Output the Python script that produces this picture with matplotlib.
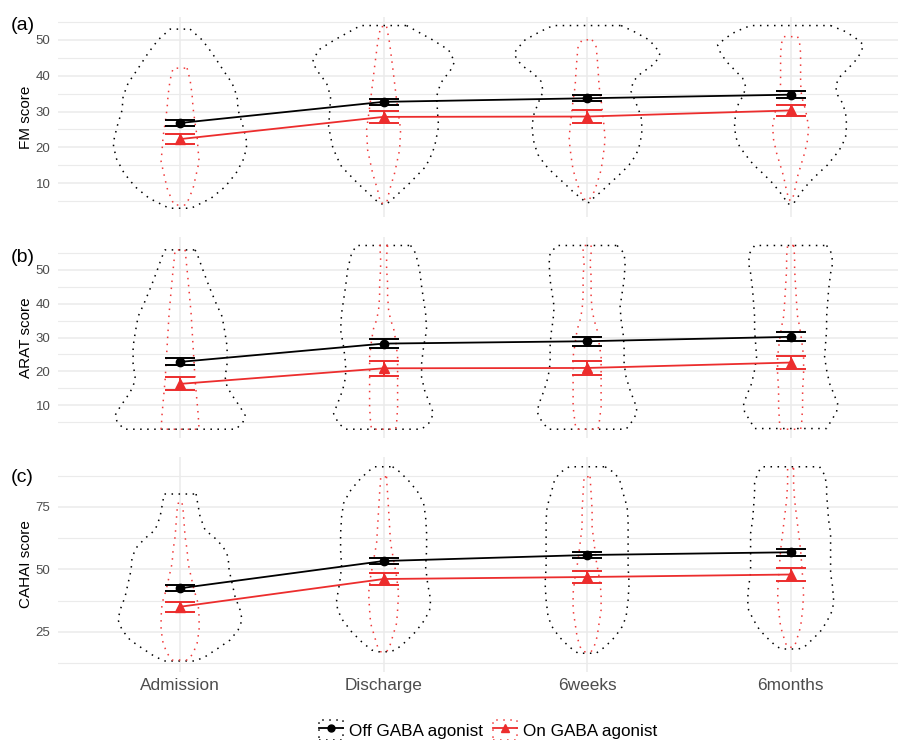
import numpy as np
import matplotlib
matplotlib.use("Agg")
import matplotlib.pyplot as plt
from matplotlib.lines import Line2D
from matplotlib.patches import Rectangle
from matplotlib.ticker import MultipleLocator

plt.rcParams['font.family'] = ['Liberation Sans', 'DejaVu Sans']

categories = ['Admission', 'Discharge', '6weeks', '6months']
groups = ['Off GABA agonist', 'On GABA agonist']

# group means and standard errors per time point
fm_off_mean = [26.8, 32.7, 33.7, 34.7]
fm_off_se = [0.9, 0.85, 0.85, 0.95]
fm_on_mean = [22.3, 28.5, 28.6, 30.3]
fm_on_se = [1.45, 1.75, 1.75, 1.65]

arat_off_mean = [22.8, 28.2, 28.9, 30.2]
arat_off_se = [1.05, 1.25, 1.3, 1.3]
arat_on_mean = [16.3, 20.9, 21.0, 22.6]
arat_on_se = [1.9, 2.15, 2.15, 2.05]

cahai_off_mean = [42.4, 53.3, 55.7, 56.8]
cahai_off_se = [1.2, 1.3, 1.3, 1.45]
cahai_on_mean = [35.0, 46.1, 46.9, 47.9]
cahai_on_se = [2.05, 2.4, 2.5, 2.5]

# violin outlines: score levels and relative density (half width) per time point
fm_off_vy = [
    [53.0, 50.0, 46.3, 41.6, 37.9, 34.2, 30.4, 25.8, 21.1, 17.0, 12.8, 9.0, 5.8, 3.0],
    [54.0, 52.3, 50.0, 47.2, 43.9, 41.6, 37.9, 34.2, 29.5, 25.8, 20.2, 17.4, 14.6, 10.0, 5.3, 4.2],
    [54.0, 52.3, 50.0, 48.1, 46.3, 44.4, 42.6, 40.7, 38.4, 35.6, 32.3, 28.6, 24.9, 21.1, 17.9, 15.1,
     12.8, 10.0, 7.6, 5.3, 4.6],
    [54.0, 52.3, 50.5, 48.6, 46.3, 43.9, 41.6, 39.3, 37.0, 34.6, 32.3, 29.5, 26.3, 23.0, 20.2, 17.9,
     15.1, 12.8, 10.0, 7.6, 5.3, 4.2],
]
fm_off_vd = [
    [10, 22, 32, 43, 52, 57, 58, 63, 67, 64, 56, 45, 31, 11],
    [23, 34, 49, 65, 71, 67, 57, 53, 54, 55, 51, 47, 42, 26, 8, 3],
    [34, 47, 62, 68, 73, 70, 64, 54, 46, 44, 49, 54, 55, 53, 49, 42, 34, 23, 14, 4, 2],
    [40, 55, 65, 73, 70, 64, 56, 48, 45, 47, 52, 55, 56, 55, 51, 45, 37, 28, 18, 11, 5, 3],
]
fm_on_vy = [
    [42.1, 38.8, 34.6, 30.9, 26.7, 23.0, 19.3, 16.0, 12.3, 8.6, 5.8, 3.9],
    [53.7, 49.1, 42.5, 37.9, 33.2, 24.9, 19.3, 12.8, 8.1, 4.4],
    [50.0, 48.1, 45.3, 41.6, 37.0, 33.2, 25.8, 22.1, 17.4, 13.7, 10.0, 7.6, 6.3, 5.3],
    [50.9, 49.1, 46.3, 42.6, 37.9, 34.2, 30.4, 25.8, 22.1, 18.4, 14.7, 11.9, 9.1, 6.8, 5.3],
]
fm_on_vd = [
    [7, 10, 12, 13, 15, 17, 18, 19, 16, 13, 9, 6],
    [3, 6, 9, 11, 13, 17, 16, 11, 6, 3],
    [5, 9, 10, 11, 12, 14, 17, 18, 16, 14, 10, 7, 4, 2],
    [7, 9, 10, 10, 10, 11, 15, 18, 17, 14, 10, 7, 5, 3, 2],
]

arat_off_vy = [
    [55.9, 53.9, 49.0, 45.1, 40.1, 36.2, 31.2, 27.3, 22.3, 18.3, 15.4, 12.5, 9.5, 7.0, 5.1, 2.9],
    [57.2, 54.9, 50.0, 45.1, 41.1, 37.2, 32.2, 27.3, 22.3, 18.3, 14.4, 10.5, 7.5, 4.6, 2.9],
    [57.2, 54.9, 51.9, 47.0, 43.1, 39.1, 35.2, 31.2, 27.3, 22.3, 18.3, 14.4, 10.5, 8.0, 5.6, 2.9],
    [57.2, 54.9, 51.9, 49.0, 44.1, 40.1, 36.2, 32.2, 28.3, 24.3, 20.4, 16.4, 13.5, 10.5, 8.0, 5.6, 3.1],
]
arat_off_vd = [
    [15, 18, 24, 29, 36, 42, 45, 47, 47, 45, 47, 53, 60, 65, 63, 56],
    [27, 32, 36, 38, 40, 42, 43, 40, 38, 38, 41, 46, 50, 45, 38],
    [30, 37, 38, 37, 35, 33, 34, 36, 37, 37, 39, 43, 48, 50, 46, 39],
    [36, 41, 42, 40, 38, 37, 36, 36, 35, 34, 36, 39, 43, 47, 46, 41, 36],
]
arat_on_vy = [
    [55.9, 47.0, 37.1, 27.3, 17.4, 7.5, 2.9],
    [57.2, 54.0, 50.0, 46.1, 42.1, 38.2, 35.2, 32.7, 29.3, 24.3, 19.4, 14.4, 9.5, 4.6, 2.9],
    [57.2, 54.9, 51.9, 48.1, 42.1, 38.2, 35.2, 32.2, 28.3, 24.3, 19.4, 14.4, 9.5, 4.6, 2.9],
    [57.2, 54.0, 50.0, 45.1, 40.1, 36.2, 33.2, 29.3, 24.3, 19.4, 14.4, 9.5, 4.6, 2.9],
]
arat_on_vd = [
    [5, 8, 11, 13, 15, 18, 19],
    [4, 3, 3, 4, 4, 5, 7, 10, 12, 14, 14, 14, 14, 13, 12],
    [4, 4, 3, 4, 4, 5, 7, 10, 12, 14, 14, 14, 14, 12, 11],
    [3, 4, 4, 5, 6, 7, 9, 11, 13, 13, 12, 12, 11, 10],
]

cahai_off_vy = [
    [80.1, 77.7, 71.0, 65.7, 62.4, 59.0, 55.0, 49.7, 44.4, 39.0, 33.7, 29.7, 25.7, 21.7, 18.4, 15.0, 13.3],
    [91.0, 89.0, 85.0, 81.0, 76.4, 71.0, 64.4, 57.7, 51.0, 44.4, 37.7, 33.7, 29.7, 25.0, 21.0, 17.7, 17.0],
    [91.0, 88.4, 85.0, 80.4, 75.0, 69.7, 63.0, 57.7, 51.0, 44.4, 37.7, 31.0, 27.0, 23.0, 19.0, 16.4],
    [91.0, 88.4, 84.4, 80.4, 75.0, 69.7, 64.4, 59.0, 53.7, 48.4, 43.0, 37.7, 33.7, 29.7, 25.7, 22.4,
     19.0, 18.1],
]
cahai_off_vd = [
    [16, 17, 20, 25, 35, 43, 48, 49, 52, 55, 60, 62, 58, 50, 38, 25, 15],
    [9, 16, 26, 34, 40, 42, 43, 43, 42, 44, 47, 46, 41, 32, 22, 12, 5],
    [18, 28, 33, 36, 40, 41, 41, 41, 41, 42, 41, 39, 35, 28, 18, 9],
    [29, 33, 36, 36, 37, 38, 40, 40, 40, 40, 42, 43, 42, 37, 31, 23, 14, 8],
]
cahai_on_vy = [
    [76.4, 73.7, 68.4, 63.0, 57.7, 52.4, 47.0, 41.7, 36.4, 31.0, 25.7, 20.4, 16.4, 13.7],
    [87.0, 85.7, 80.4, 73.7, 67.0, 60.4, 53.7, 47.0, 40.4, 33.7, 28.4, 23.0, 19.0, 17.0],
    [87.0, 80.4, 73.7, 67.0, 60.4, 53.7, 47.0, 40.4, 33.7, 28.4, 23.0, 19.0, 17.0],
    [90.4, 84.4, 77.7, 71.0, 64.4, 57.7, 52.4, 47.0, 40.4, 33.7, 27.0, 23.0, 20.4, 18.8],
]
cahai_on_vd = [
    [2, 3, 4, 5, 7, 8, 11, 14, 18, 19, 19, 17, 13, 8],
    [3, 3, 4, 5, 6, 7, 10, 13, 15, 14, 13, 9, 6, 3],
    [3, 4, 5, 5, 7, 9, 12, 14, 14, 12, 10, 7, 4],
    [3, 3, 4, 6, 8, 10, 11, 12, 13, 12, 10, 7, 5, 3],
]

OFF_COLOR = 'black'
ON_COLOR = '#EC2D2D'
ON_VIOLIN = '#F03A3A'
GRID = '#EBEBEB'
DENS_SCALE = 1 / 203.5
DOTS = (0, (1, 3.6))


def draw_violins(ax, vy, vd, color):
    for i, (ys, ds) in enumerate(zip(vy, vd)):
        ys = np.asarray(ys, dtype=float)
        ds = np.asarray(ds, dtype=float) * DENS_SCALE
        x = i + 1
        px = np.concatenate([x + ds, (x - ds)[::-1], [x + ds[0]]])
        py = np.concatenate([ys, ys[::-1], [ys[0]]])
        ax.plot(px, py, color=color, lw=1.1, linestyle=DOTS, zorder=2)


def draw_summary(ax, mean, se, color, marker, ms):
    x = np.arange(1, len(categories) + 1)
    ax.errorbar(x, mean, yerr=se, fmt='none', ecolor=color, elinewidth=1.4,
                capsize=10.8, capthick=1.4, zorder=3)
    ax.plot(x, mean, color=color, lw=1.3, marker=marker, markersize=ms, zorder=4)


fig = plt.figure(figsize=(8.98, 7.40), dpi=100)

panels = [
    ('(a)', 'FM score', (0.7068, 0.2703), (0.56, 56.4), 10, 5,
     fm_off_vy, fm_off_vd, fm_on_vy, fm_on_vd, fm_off_mean, fm_off_se, fm_on_mean, fm_on_se),
    ('(b)', 'ARAT score', (0.4081, 0.2716), (0.3, 59.7), 10, 5,
     arat_off_vy, arat_off_vd, arat_on_vy, arat_on_vd, arat_off_mean, arat_off_se, arat_on_mean, arat_on_se),
    ('(c)', 'CAHAI score', (0.0919, 0.2905), (8.9, 94.9), 25, 12.5,
     cahai_off_vy, cahai_off_vd, cahai_on_vy, cahai_on_vd, cahai_off_mean, cahai_off_se, cahai_on_mean, cahai_on_se),
]

for k, (tag, ylabel, (bottom, height), ylim, major, minor,
        off_vy, off_vd, on_vy, on_vd, off_m, off_s, on_m, on_s) in enumerate(panels):
    ax = fig.add_axes([58 / 898, bottom, 840 / 898, height])
    draw_violins(ax, off_vy, off_vd, OFF_COLOR)
    draw_violins(ax, on_vy, on_vd, ON_VIOLIN)
    draw_summary(ax, off_m, off_s, OFF_COLOR, 'o', 6)
    draw_summary(ax, on_m, on_s, ON_COLOR, '^', 7)

    ax.set_xlim(0.4, 0.4 + 840 / 203.5)
    ax.set_ylim(*ylim)
    ax.yaxis.set_major_locator(MultipleLocator(major))
    ax.yaxis.set_minor_locator(MultipleLocator(minor))
    ax.set_xticks(range(1, len(categories) + 1))
    ax.grid(axis='y', which='major', color=GRID, lw=1.1, zorder=0)
    ax.grid(axis='y', which='minor', color=GRID, lw=0.8, zorder=0)
    ax.grid(axis='x', which='major', color=GRID, lw=1.1, zorder=0)
    ax.set_axisbelow(True)
    for pos in ['right', 'top', 'bottom', 'left']:
        ax.spines[pos].set_visible(False)
    ax.tick_params(axis='both', which='both', length=0)
    ax.tick_params(axis='y', labelsize=9.5, labelcolor='#4D4D4D', pad=5.5)
    if k < 2:
        ax.set_xticklabels([])
    else:
        ax.set_xticklabels(categories)
        ax.tick_params(axis='x', labelsize=12.4, labelcolor='#4D4D4D', pad=4)
    ax.set_ylabel(ylabel, fontsize=11)
    ax.yaxis.set_label_coords(-0.030, 0.5)
    fig.text(11 / 898, 1 - (25 + [0, 232, 452][k]) / 740, tag, fontsize=14,
             ha='left', va='center')

handles = [
    (Rectangle((0, 0), 1, 1, facecolor='none', edgecolor=OFF_COLOR, lw=1.1, linestyle=DOTS),
     Line2D([], [], color=OFF_COLOR, lw=1.3, marker='o', markersize=5)),
    (Rectangle((0, 0), 1, 1, facecolor='none', edgecolor=ON_VIOLIN, lw=1.1, linestyle=DOTS),
     Line2D([], [], color=ON_COLOR, lw=1.3, marker='^', markersize=6)),
]
fig.legend(handles, groups, loc='center', bbox_to_anchor=(488 / 898, 1 - 730 / 740),
           ncol=2, frameon=False, fontsize=12.3, handlelength=1.4, handleheight=1.4,
           handletextpad=0.35, columnspacing=0.6, borderpad=0)

fig.savefig('out.png', dpi=100)
